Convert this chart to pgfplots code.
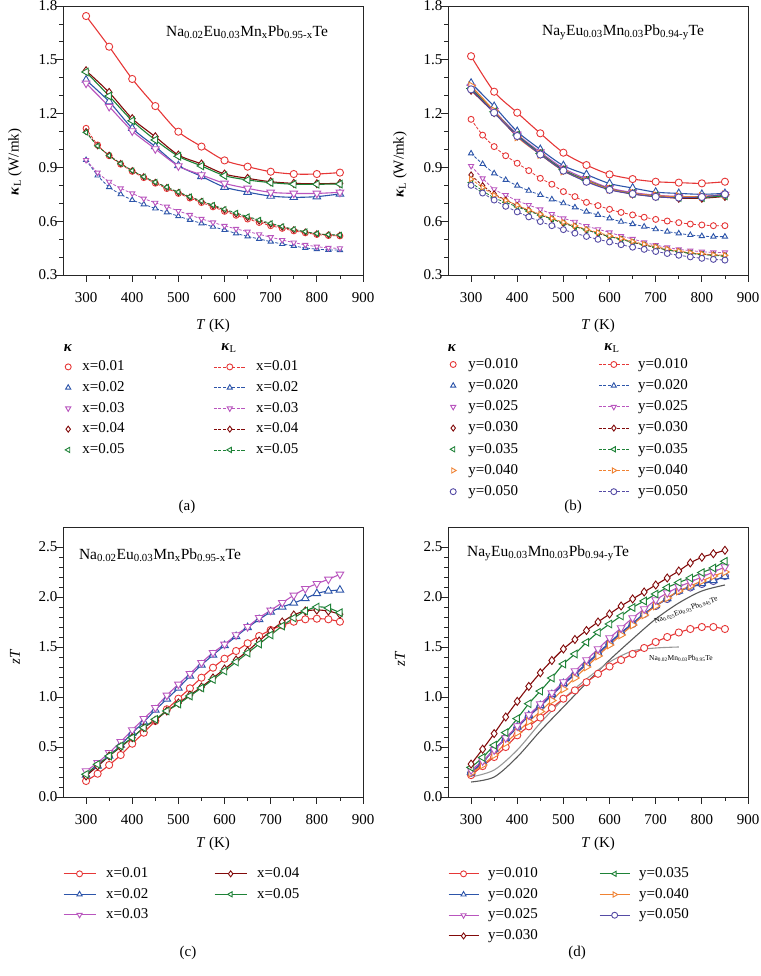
\documentclass[border=0pt]{standalone}
\usepackage{pgfplots}
\pgfplotsset{compat=1.18}
\usepackage{pgfplotstable}
\usepackage{fontspec}
\setmainfont{Liberation Serif}

\definecolor{cR}{RGB}{230,55,55}
\definecolor{cB}{RGB}{45,85,170}
\definecolor{cM}{RGB}{185,85,190}
\definecolor{cD}{RGB}{130,10,10}
\definecolor{cG}{RGB}{30,130,55}
\definecolor{cO}{RGB}{240,130,50}
\definecolor{cP}{RGB}{85,75,165}

\newcommand{\fs}{\fontsize{15}{17}\selectfont}

% ---------- panel (a): kappa (solid) ----------
\pgfplotstableread{
T x01 x02 x03 x04 x05
300 1.744 1.387 1.369 1.439 1.432
350 1.573 1.267 1.239 1.318 1.298
400 1.393 1.118 1.103 1.172 1.160
450 1.242 1.016 1.003 1.071 1.053
500 1.099 0.910 0.908 0.969 0.962
550 1.016 0.850 0.858 0.919 0.908
600 0.939 0.790 0.811 0.863 0.854
650 0.904 0.762 0.783 0.839 0.830
700 0.876 0.740 0.761 0.820 0.815
750 0.863 0.733 0.755 0.811 0.806
800 0.863 0.737 0.755 0.809 0.806
850 0.871 0.752 0.761 0.811 0.807
}\aS
% ---------- panel (a): kappa_L (dashed) ----------
\pgfplotstableread{
T x01 x02 x03 x04 x05
300 1.118 0.941 0.941 1.100 1.095
325 1.025 0.855 0.871 1.020 1.020
350 0.965 0.790 0.820 0.968 0.966
375 0.918 0.750 0.783 0.922 0.921
400 0.878 0.718 0.755 0.882 0.882
425 0.843 0.694 0.726 0.848 0.848
450 0.812 0.671 0.703 0.817 0.818
475 0.782 0.649 0.681 0.788 0.790
500 0.755 0.628 0.657 0.760 0.763
525 0.729 0.607 0.635 0.734 0.737
550 0.704 0.588 0.613 0.710 0.713
575 0.680 0.569 0.593 0.686 0.690
600 0.655 0.551 0.574 0.662 0.667
625 0.633 0.532 0.557 0.640 0.646
650 0.612 0.515 0.542 0.620 0.626
675 0.593 0.501 0.527 0.601 0.607
700 0.575 0.486 0.511 0.583 0.588
725 0.560 0.473 0.495 0.567 0.571
750 0.546 0.462 0.481 0.552 0.555
775 0.535 0.451 0.468 0.540 0.542
800 0.526 0.444 0.458 0.530 0.531
825 0.520 0.440 0.451 0.524 0.525
850 0.518 0.439 0.449 0.522 0.523
}\aL
% ---------- panel (b): kappa (solid) ----------
\pgfplotstableread{
T y010 y020 y025 y030 y035 y040 y050
300 1.520 1.370 1.350 1.330 1.340 1.355 1.335
350 1.322 1.240 1.215 1.205 1.210 1.215 1.205
400 1.205 1.100 1.085 1.075 1.080 1.070 1.075
450 1.090 1.000 0.985 0.975 0.978 0.972 0.972
500 0.982 0.910 0.895 0.885 0.887 0.880 0.882
550 0.913 0.860 0.835 0.825 0.828 0.825 0.820
600 0.861 0.810 0.785 0.778 0.780 0.778 0.775
650 0.835 0.785 0.760 0.752 0.755 0.755 0.752
700 0.820 0.762 0.745 0.738 0.740 0.742 0.736
750 0.815 0.755 0.738 0.728 0.732 0.737 0.732
800 0.811 0.750 0.738 0.728 0.732 0.738 0.735
850 0.820 0.755 0.748 0.738 0.742 0.748 0.750
}\bS
% ---------- panel (b): kappa_L (dashed) ----------
\pgfplotstableread{
T y010 y020 y025 y030 y035 y040 y050
300 1.168 0.978 0.908 0.858 0.815 0.835 0.800
325 1.080 0.919 0.839 0.798 0.770 0.788 0.757
350 1.016 0.867 0.778 0.752 0.730 0.745 0.718
375 0.965 0.830 0.746 0.718 0.705 0.716 0.683
400 0.923 0.798 0.714 0.687 0.680 0.689 0.652
425 0.882 0.770 0.690 0.659 0.656 0.662 0.624
450 0.839 0.746 0.666 0.635 0.634 0.639 0.598
475 0.806 0.722 0.640 0.612 0.612 0.616 0.575
500 0.765 0.700 0.616 0.588 0.590 0.594 0.553
525 0.737 0.677 0.597 0.570 0.570 0.574 0.533
550 0.705 0.653 0.573 0.551 0.551 0.555 0.515
575 0.687 0.635 0.555 0.532 0.533 0.537 0.499
600 0.666 0.616 0.538 0.514 0.515 0.519 0.484
625 0.649 0.597 0.517 0.499 0.499 0.503 0.469
650 0.635 0.584 0.501 0.482 0.483 0.487 0.455
675 0.622 0.570 0.482 0.467 0.468 0.472 0.443
700 0.610 0.555 0.467 0.454 0.454 0.458 0.431
725 0.601 0.542 0.454 0.439 0.440 0.445 0.420
750 0.592 0.532 0.443 0.430 0.430 0.434 0.410
775 0.584 0.523 0.436 0.421 0.421 0.425 0.401
800 0.579 0.517 0.430 0.415 0.414 0.418 0.393
825 0.575 0.514 0.426 0.412 0.409 0.413 0.387
850 0.575 0.514 0.426 0.408 0.405 0.410 0.383
}\bL
% ---------- panel (c): zT ----------
\pgfplotstableread{
T x01 x02 x03 x04 x05
300 0.160 0.220 0.260 0.210 0.227
325 0.233 0.310 0.343 0.310 0.327
350 0.320 0.410 0.443 0.410 0.410
375 0.420 0.520 0.553 0.500 0.510
400 0.533 0.640 0.670 0.593 0.593
425 0.643 0.750 0.783 0.693 0.693
450 0.760 0.870 0.893 0.767 0.777
475 0.877 0.980 1.017 0.860 0.860
500 0.983 1.090 1.127 0.940 0.930
525 1.087 1.210 1.233 1.020 1.010
550 1.193 1.320 1.343 1.100 1.090
575 1.293 1.420 1.443 1.190 1.175
600 1.383 1.515 1.527 1.280 1.260
625 1.460 1.605 1.620 1.370 1.350
650 1.537 1.695 1.703 1.460 1.440
675 1.610 1.775 1.793 1.560 1.530
700 1.670 1.850 1.867 1.660 1.620
725 1.717 1.900 1.943 1.750 1.710
750 1.753 1.940 2.017 1.820 1.790
775 1.777 1.985 2.083 1.860 1.860
800 1.783 2.035 2.133 1.870 1.900
825 1.777 2.060 2.177 1.860 1.890
850 1.753 2.070 2.227 1.827 1.843
}\cZ
% ---------- panel (d): zT ----------
\pgfplotstableread{
T y010 y020 y025 y030 y035 y040 y050
300 0.219 0.250 0.270 0.329 0.296 0.240 0.242
325 0.309 0.350 0.360 0.478 0.395 0.320 0.342
350 0.400 0.480 0.470 0.634 0.518 0.420 0.475
375 0.500 0.585 0.590 0.800 0.644 0.540 0.578
400 0.617 0.700 0.710 0.956 0.784 0.645 0.694
425 0.707 0.815 0.820 1.106 0.933 0.755 0.807
450 0.794 0.915 0.930 1.242 1.059 0.855 0.906
475 0.890 1.025 1.040 1.365 1.190 0.965 1.016
500 0.983 1.135 1.150 1.480 1.330 1.080 1.125
525 1.066 1.232 1.260 1.575 1.430 1.190 1.222
550 1.148 1.335 1.370 1.665 1.547 1.300 1.325
575 1.232 1.440 1.480 1.750 1.646 1.410 1.430
600 1.305 1.545 1.590 1.830 1.730 1.520 1.537
625 1.370 1.645 1.690 1.910 1.810 1.620 1.637
650 1.430 1.738 1.790 1.980 1.895 1.720 1.730
675 1.490 1.835 1.880 2.050 1.960 1.820 1.830
700 1.550 1.915 1.970 2.120 2.030 1.910 1.910
725 1.600 1.985 2.040 2.190 2.095 1.990 1.980
750 1.645 2.060 2.100 2.260 2.145 2.060 2.060
775 1.680 2.100 2.150 2.340 2.190 2.110 2.095
800 1.700 2.135 2.200 2.397 2.244 2.160 2.130
825 1.700 2.165 2.250 2.433 2.290 2.210 2.160
850 1.680 2.205 2.300 2.467 2.357 2.250 2.210
}\dZ
\pgfplotstableread{
T z
300 0.15
350 0.20
400 0.40
450 0.66
500 0.90
550 1.14
600 1.37
650 1.58
700 1.78
750 1.94
800 2.06
850 2.12
}\dGa
\pgfplotstableread{
T z
300 0.20
350 0.27
400 0.47
450 0.74
500 0.98
550 1.18
600 1.35
650 1.46
700 1.49
750 1.50
}\dGb

\pgfplotsset{
  mO/.style={mark=*, mark size=3.6pt, mark options={solid, fill=white, line width=0.9pt}},
  mT/.style={mark=triangle*, mark size=4.4pt, mark options={solid, fill=white, line width=0.9pt}},
  mV/.style={mark=triangle*, mark size=4.4pt, mark options={solid, fill=white, line width=0.9pt, rotate=180}},
  mD/.style={mark=diamond*, mark size=4.0pt, mark options={solid, fill=white, line width=0.9pt}},
  mL/.style={mark=triangle*, mark size=4.4pt, mark options={solid, fill=white, line width=0.9pt, rotate=90}},
  mRt/.style={mark=triangle*, mark size=4.4pt, mark options={solid, fill=white, line width=0.9pt, rotate=-90}},
  sm/.style={mark size=3.0pt},
  sol/.style={line width=1.1pt, smooth},
  dsh/.style={line width=0.8pt, dash pattern=on 3pt off 1.6pt, smooth},
  mkimg/.style={legend image code/.code={\path (0pt,0pt) (14pt,0pt); \draw[##1] plot coordinates {(5pt,0pt)};}},
  lnimg/.style={legend image code/.code={\draw[mark repeat=2,mark phase=2,##1] plot coordinates {(0pt,0pt) (16pt,0pt) (32pt,0pt)};}},
  lnimgb/.style={legend image code/.code={\draw[mark repeat=2,mark phase=2,##1] plot coordinates {(0pt,0pt) (15pt,0pt) (30pt,0pt)};}},
  base/.style={scale only axis, width=300pt, anchor=south west,
    xmin=250, xmax=900, xtick={300,400,500,600,700,800,900}, minor x tick num=1,
    tick align=outside, tick pos=left,
    major tick length=7pt, minor tick length=4pt,
    every tick/.style={black!85, line width=0.8pt},
    axis line style={black!85, line width=0.9pt},
    tick label style={font=\fs},
    label style={font=\fs},
    /pgf/number format/assume math mode=true,
    yticklabel style={/pgf/number format/.cd, fixed, fixed zerofill, precision=1, /tikz/.cd, xshift=5pt},
    xticklabel style={yshift=-7pt},
    xlabel={\textit{T} (K)},
    xlabel style={at={(axis description cs:0.5,-0.175)}, anchor=center},
    legend columns=2, legend cell align=left,
    legend style={draw=none, fill=none, font=\fs, inner sep=0pt, outer sep=0pt, anchor=north west,
      nodes={text height=11pt, text depth=3.5pt, inner sep=1pt}},
  },
}

\begin{document}
\begin{tikzpicture}
\path[use as bounding box] (0pt,0pt) rectangle (760pt,976pt);

% ================= (a) =================
\begin{axis}[base, at={(63pt,701pt)}, height=269pt,
  ymin=0.3, ymax=1.8, ytick={0.3,0.6,0.9,1.2,1.5,1.8}, minor y tick num=2,
  ylabel={\textbf{\textit{κ}}\textsubscript{L} (W/mk)},
  ylabel style={at={(axis description cs:-0.16,0.42)}, anchor=center},
  xlabel style={at={(axis description cs:0.5,-0.19)}, anchor=center},
  legend style={at={(axis description cs:0,-0.311)}, row sep=4.25pt,
    /tikz/column 1/.style={column sep=4pt},
    /tikz/column 2/.style={column sep=87.8pt},
    /tikz/column 3/.style={column sep=9pt}},
]
\addplot[cR, sol, mO, forget plot] table[x=T,y=x01]{\aS};
\addplot[cB, sol, mT, forget plot] table[x=T,y=x02]{\aS};
\addplot[cM, sol, mV, forget plot] table[x=T,y=x03]{\aS};
\addplot[cD, sol, mD, forget plot] table[x=T,y=x04]{\aS};
\addplot[cG, sol, mL, forget plot] table[x=T,y=x05]{\aS};
\addplot[cB, dsh, mT, sm, forget plot] table[x=T,y=x02]{\aL};
\addplot[cM, dsh, mV, sm, forget plot] table[x=T,y=x03]{\aL};
\addplot[cR, dsh, mO, sm, forget plot] table[x=T,y=x01]{\aL};
\addplot[cD, dsh, mD, sm, forget plot] table[x=T,y=x04]{\aL};
\addplot[cG, dsh, mL, sm, forget plot] table[x=T,y=x05]{\aL};
\addlegendimage{mkimg, only marks, cR, mO, sm}\addlegendentry{x=0.01}
\addlegendimage{lnimg, cR, dsh, mO, sm}\addlegendentry{x=0.01}
\addlegendimage{mkimg, only marks, cB, mT, sm}\addlegendentry{x=0.02}
\addlegendimage{lnimg, cB, dsh, mT, sm}\addlegendentry{x=0.02}
\addlegendimage{mkimg, only marks, cM, mV, sm}\addlegendentry{x=0.03}
\addlegendimage{lnimg, cM, dsh, mV, sm}\addlegendentry{x=0.03}
\addlegendimage{mkimg, only marks, cD, mD, sm}\addlegendentry{x=0.04}
\addlegendimage{lnimg, cD, dsh, mD, sm}\addlegendentry{x=0.04}
\addlegendimage{mkimg, only marks, cG, mL, sm}\addlegendentry{x=0.05}
\addlegendimage{lnimg, cG, dsh, mL, sm}\addlegendentry{x=0.05}
\end{axis}

% ================= (b) =================
\begin{axis}[base, at={(448pt,701pt)}, height=269pt,
  ymin=0.3, ymax=1.8, ytick={0.3,0.6,0.9,1.2,1.5,1.8}, minor y tick num=2,
  ylabel={\textbf{\textit{κ}}\textsubscript{L} (W/mk)},
  ylabel style={at={(axis description cs:-0.16,0.41)}, anchor=center},
  xlabel style={at={(axis description cs:0.5,-0.19)}, anchor=center},
  legend style={at={(axis description cs:0,-0.302)}, row sep=4.7pt,
    /tikz/column 1/.style={column sep=5pt},
    /tikz/column 2/.style={column sep=79.3pt},
    /tikz/column 3/.style={column sep=8pt}},
]
\addplot[cR, sol, mO, forget plot] table[x=T,y=y010]{\bS};
\addplot[cB, sol, mT, forget plot] table[x=T,y=y020]{\bS};
\addplot[cM, sol, mV, forget plot] table[x=T,y=y025]{\bS};
\addplot[cD, sol, mD, forget plot] table[x=T,y=y030]{\bS};
\addplot[cG, sol, mL, forget plot] table[x=T,y=y035]{\bS};
\addplot[cO, sol, mRt, forget plot] table[x=T,y=y040]{\bS};
\addplot[cP, sol, mO, forget plot] table[x=T,y=y050]{\bS};
\addplot[cR, dsh, mO, sm, forget plot] table[x=T,y=y010]{\bL};
\addplot[cB, dsh, mT, sm, forget plot] table[x=T,y=y020]{\bL};
\addplot[cM, dsh, mV, sm, forget plot] table[x=T,y=y025]{\bL};
\addplot[cD, dsh, mD, sm, forget plot] table[x=T,y=y030]{\bL};
\addplot[cG, dsh, mL, sm, forget plot] table[x=T,y=y035]{\bL};
\addplot[cO, dsh, mRt, sm, forget plot] table[x=T,y=y040]{\bL};
\addplot[cP, dsh, mO, sm, forget plot] table[x=T,y=y050]{\bL};
\addlegendimage{mkimg, only marks, cR, mO, sm}\addlegendentry{y=0.010}
\addlegendimage{lnimgb, cR, dsh, mO, sm}\addlegendentry{y=0.010}
\addlegendimage{mkimg, only marks, cB, mT, sm}\addlegendentry{y=0.020}
\addlegendimage{lnimgb, cB, dsh, mT, sm}\addlegendentry{y=0.020}
\addlegendimage{mkimg, only marks, cM, mV, sm}\addlegendentry{y=0.025}
\addlegendimage{lnimgb, cM, dsh, mV, sm}\addlegendentry{y=0.025}
\addlegendimage{mkimg, only marks, cD, mD, sm}\addlegendentry{y=0.030}
\addlegendimage{lnimgb, cD, dsh, mD, sm}\addlegendentry{y=0.030}
\addlegendimage{mkimg, only marks, cG, mL, sm}\addlegendentry{y=0.035}
\addlegendimage{lnimgb, cG, dsh, mL, sm}\addlegendentry{y=0.035}
\addlegendimage{mkimg, only marks, cO, mRt, sm}\addlegendentry{y=0.040}
\addlegendimage{lnimgb, cO, dsh, mRt, sm}\addlegendentry{y=0.040}
\addlegendimage{mkimg, only marks, cP, mO, sm}\addlegendentry{y=0.050}
\addlegendimage{lnimgb, cP, dsh, mO, sm}\addlegendentry{y=0.050}
\end{axis}

% ================= (c) =================
\begin{axis}[base, at={(63pt,179pt)}, height=270pt,
  ymin=0, ymax=2.7, ytick={0,0.5,1.0,1.5,2.0,2.5}, minor y tick num=4,
  ylabel={\textit{zT}},
  ylabel style={at={(axis description cs:-0.16,0.52)}, anchor=center},
  legend style={at={(axis description cs:0,-0.254)}, row sep=4pt,
    /tikz/column 1/.style={column sep=9pt},
    /tikz/column 2/.style={column sep=64.8pt},
    /tikz/column 3/.style={column sep=9pt}},
]
\addplot[cR, sol, mO, forget plot] table[x=T,y=x01]{\cZ};
\addplot[cB, sol, mT, forget plot] table[x=T,y=x02]{\cZ};
\addplot[cM, sol, mV, forget plot] table[x=T,y=x03]{\cZ};
\addplot[cD, sol, mD, forget plot] table[x=T,y=x04]{\cZ};
\addplot[cG, sol, mL, forget plot] table[x=T,y=x05]{\cZ};
\addlegendimage{lnimg, cR, sol, mO, sm}\addlegendentry{x=0.01}
\addlegendimage{lnimg, cD, sol, mD, sm}\addlegendentry{x=0.04}
\addlegendimage{lnimg, cB, sol, mT, sm}\addlegendentry{x=0.02}
\addlegendimage{lnimg, cG, sol, mL, sm}\addlegendentry{x=0.05}
\addlegendimage{lnimg, cM, sol, mV, sm}\addlegendentry{x=0.03}
\end{axis}

% ================= (d) =================
\begin{axis}[base, at={(448pt,179pt)}, height=270pt,
  ymin=0, ymax=2.7, ytick={0,0.5,1.0,1.5,2.0,2.5}, minor y tick num=4,
  ylabel={\textit{zT}},
  ylabel style={at={(axis description cs:-0.16,0.51)}, anchor=center},
  legend style={at={(axis description cs:0,-0.254)}, row sep=4.2pt,
    /tikz/column 1/.style={column sep=8pt},
    /tikz/column 2/.style={column sep=60.3pt},
    /tikz/column 3/.style={column sep=8pt}},
]
\addplot[black!65, line width=1.1pt, smooth, no marks, forget plot] table[x=T,y=z]{\dGa};
\addplot[black!40, line width=1.1pt, smooth, no marks, forget plot] table[x=T,y=z]{\dGb};
\addplot[cR, sol, mO, forget plot] table[x=T,y=y010]{\dZ};
\addplot[cP, sol, mO, forget plot] table[x=T,y=y050]{\dZ};
\addplot[cB, sol, mT, forget plot] table[x=T,y=y020]{\dZ};
\addplot[cO, sol, mRt, forget plot] table[x=T,y=y040]{\dZ};
\addplot[cM, sol, mV, forget plot] table[x=T,y=y025]{\dZ};
\addplot[cG, sol, mL, forget plot] table[x=T,y=y035]{\dZ};
\addplot[cD, sol, mD, forget plot] table[x=T,y=y030]{\dZ};
\addlegendimage{lnimgb, cR, sol, mO, sm}\addlegendentry{y=0.010}
\addlegendimage{lnimgb, cG, sol, mL, sm}\addlegendentry{y=0.035}
\addlegendimage{lnimgb, cB, sol, mT, sm}\addlegendentry{y=0.020}
\addlegendimage{lnimgb, cO, sol, mRt, sm}\addlegendentry{y=0.040}
\addlegendimage{lnimgb, cM, sol, mV, sm}\addlegendentry{y=0.025}
\addlegendimage{lnimgb, cP, sol, mO, sm}\addlegendentry{y=0.050}
\addlegendimage{lnimgb, cD, sol, mD, sm}\addlegendentry{y=0.030}
\end{axis}

% ---------- titles inside panels ----------
\node[font=\fontsize{15.5}{17}\selectfont] at (247pt,944pt) {Na\textsubscript{0.02}Eu\textsubscript{0.03}Mn\textsubscript{x}Pb\textsubscript{0.95-x}Te};
\node[font=\fontsize{15.5}{17}\selectfont] at (623pt,944pt) {Na\textsubscript{y}Eu\textsubscript{0.03}Mn\textsubscript{0.03}Pb\textsubscript{0.94-y}Te};
\node[font=\fontsize{15.5}{17}\selectfont] at (160pt,421pt) {Na\textsubscript{0.02}Eu\textsubscript{0.03}Mn\textsubscript{x}Pb\textsubscript{0.95-x}Te};
\node[font=\fontsize{15.5}{17}\selectfont] at (548pt,423pt) {Na\textsubscript{y}Eu\textsubscript{0.03}Mn\textsubscript{0.03}Pb\textsubscript{0.94-y}Te};
% curve labels in (d)
\node[font=\fontsize{7.5}{8}\selectfont, rotate=20, inner sep=0pt] at (686pt,366pt) {Na\textsubscript{0.025}Eu\textsubscript{0.03}Pb\textsubscript{0.945}Te};
\node[font=\fontsize{7.5}{8}\selectfont, inner sep=0pt] at (681pt,318pt) {Na\textsubscript{0.02}Mn\textsubscript{0.03}Pb\textsubscript{0.95}Te};
% legend headers
\node[font=\fs] at (68pt,628pt) {\textbf{\textit{κ}}};
\node[font=\fs] at (229pt,628pt) {\textbf{\textit{κ}}\textsubscript{L}};
\node[font=\fs] at (452pt,628pt) {\textbf{\textit{κ}}};
\node[font=\fs] at (612pt,628pt) {\textbf{\textit{κ}}\textsubscript{L}};
% panel letters
\node[font=\fs] at (187pt,469pt) {(a)};
\node[font=\fs] at (573pt,469pt) {(b)};
\node[font=\fs] at (188pt,23pt) {(c)};
\node[font=\fs] at (577pt,23pt) {(d)};
\end{tikzpicture}
\end{document}
